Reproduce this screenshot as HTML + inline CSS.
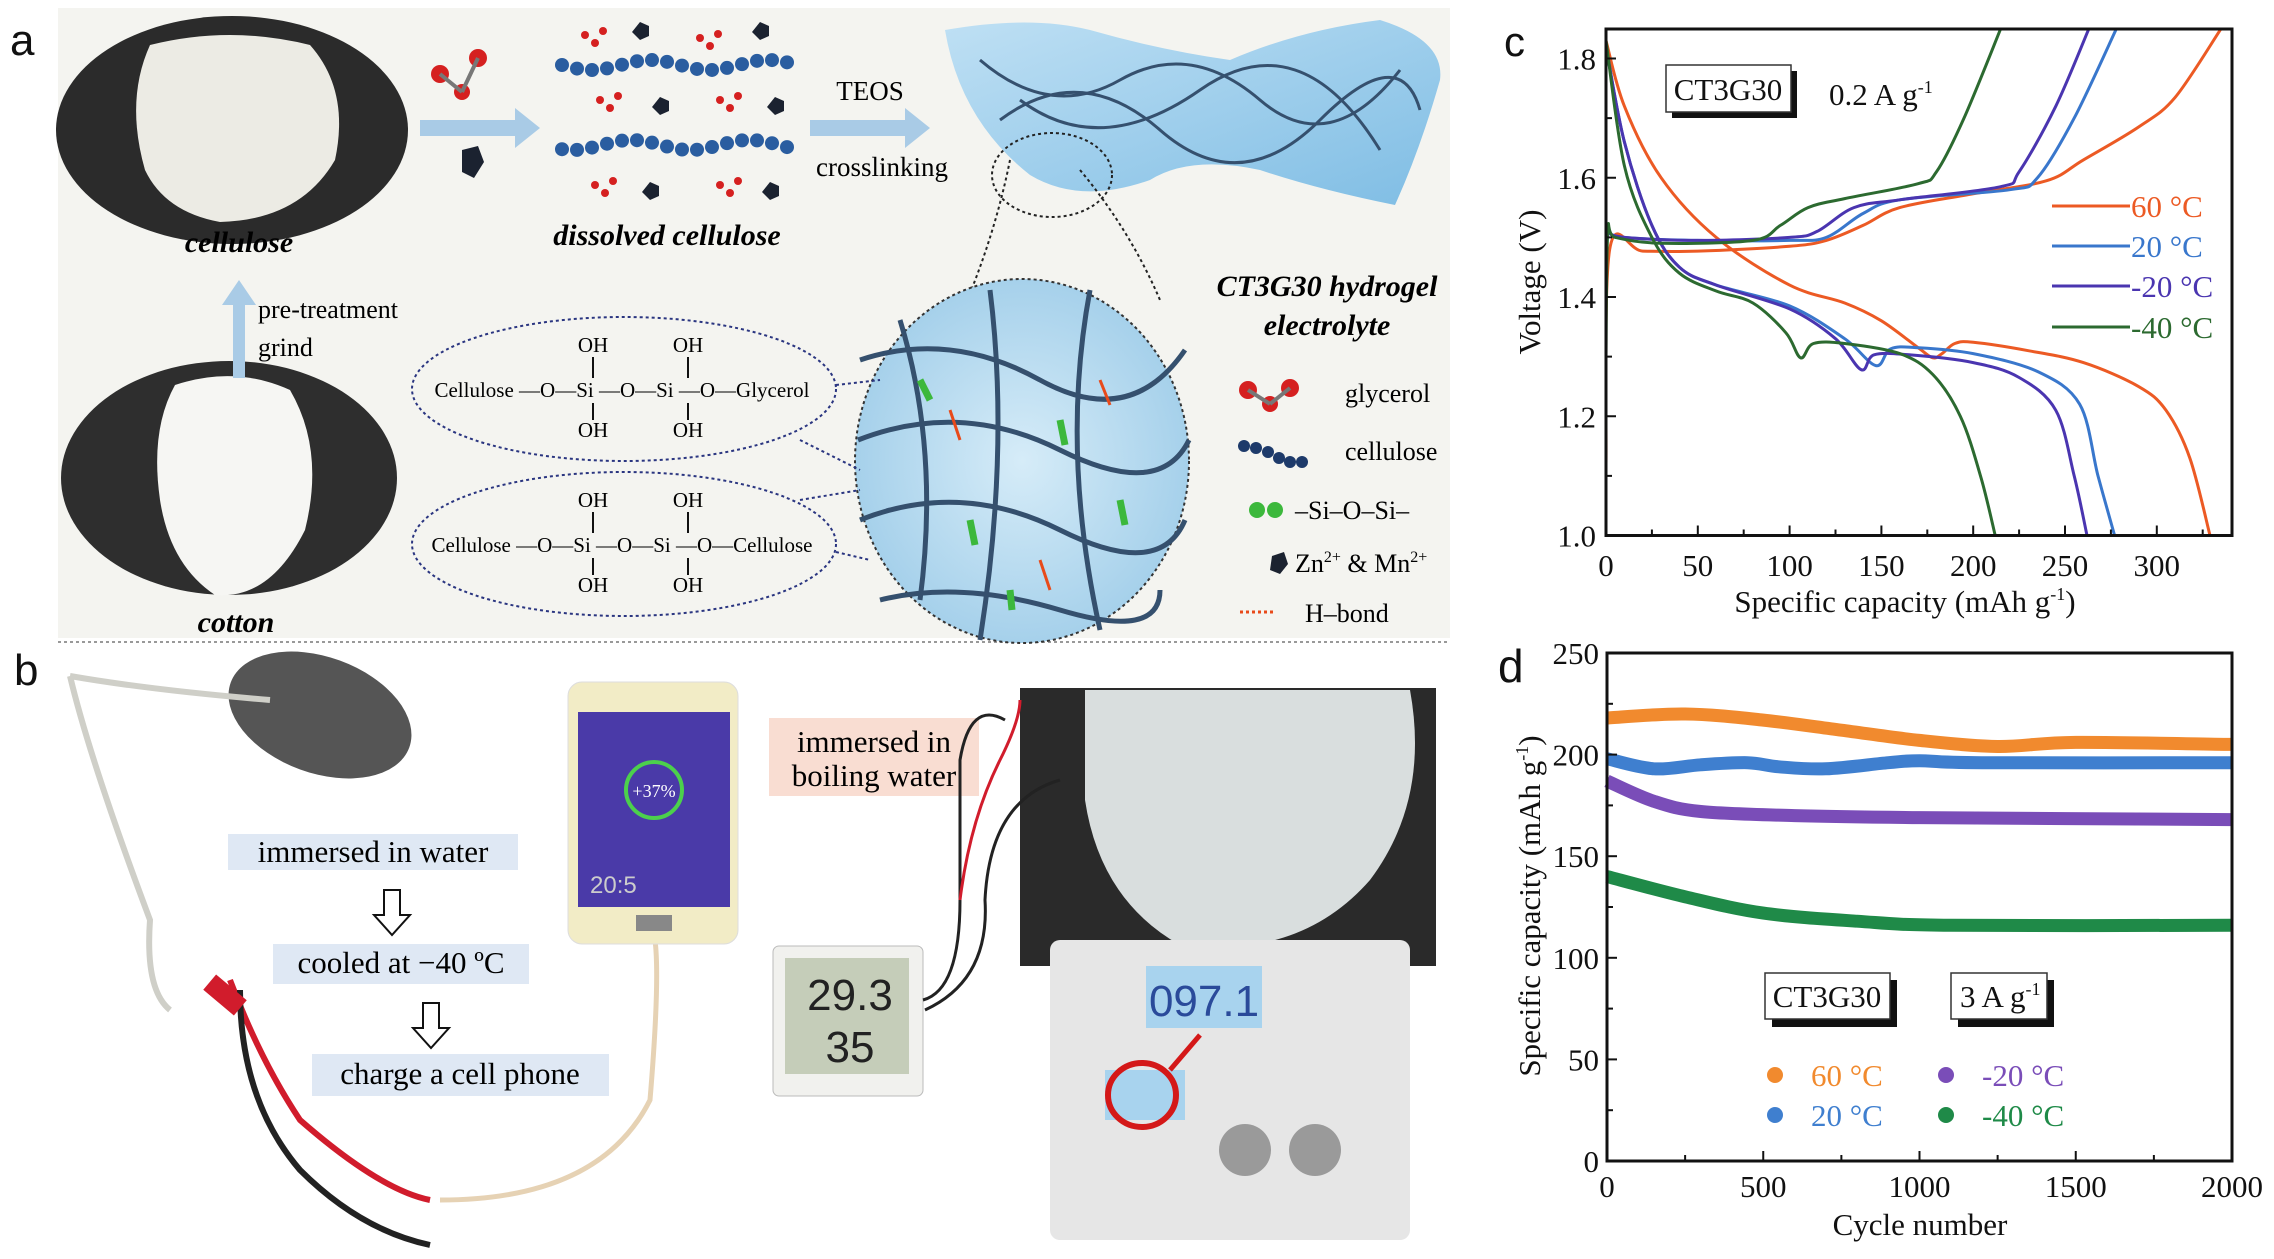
<!DOCTYPE html>
<html><head><meta charset="utf-8"><style>
html,body{margin:0;padding:0;background:#fff}
svg{display:block}
text{font-family:"Liberation Serif",serif}
.ax{font-size:31px;fill:#111}
</style></head><body>
<svg id="s" width="2274" height="1259" viewBox="0 0 2274 1259" xmlns="http://www.w3.org/2000/svg">
<defs>
<radialGradient id="bl" cx="50%" cy="50%" r="60%"><stop offset="0" stop-color="#d6ecf8"/><stop offset="1" stop-color="#9ccbe8"/></radialGradient>
<linearGradient id="hg" x1="0" y1="0" x2="1" y2="1"><stop offset="0" stop-color="#bfe0f4"/><stop offset="1" stop-color="#7fbde4"/></linearGradient>
</defs>
<rect x="58" y="8" width="1392" height="630" fill="#f4f4f0"/>
<line x1="58" y1="642" x2="1450" y2="642" stroke="#999" stroke-width="2" stroke-dasharray="3,3"/>
<text x="10" y="55" font-size="44" fill="#111" style="font-family:'Liberation Sans',sans-serif">a</text>
<text x="14" y="685" font-size="44" fill="#111" style="font-family:'Liberation Sans',sans-serif">b</text>
<text x="1504" y="56" font-size="42" fill="#111" style="font-family:'Liberation Sans',sans-serif">c</text>
<text x="1498" y="682" font-size="46" fill="#111" style="font-family:'Liberation Sans',sans-serif">d</text>

<ellipse cx="232" cy="130" rx="176" ry="114" fill="#2b2b2b"/>
<path d="M150,45 Q230,25 310,45 Q350,90 335,160 Q300,220 220,222 Q165,212 145,170 Q125,100 150,45Z" fill="#ecebe4"/>
<text x="239" y="252" text-anchor="middle" font-size="30" font-weight="bold" font-style="italic">cellulose</text>
<ellipse cx="229" cy="478" rx="168" ry="117" fill="#2e2e2e"/>
<path d="M175,385 Q235,365 290,390 Q325,450 305,530 Q270,600 215,595 Q170,565 160,500 Q150,430 175,385Z" fill="#f6f6f3"/>
<text x="236" y="632" text-anchor="middle" font-size="30" font-weight="bold" font-style="italic">cotton</text>
<path d="M233,378 L233,305 L222,305 L239,280 L256,305 L245,305 L245,378Z" fill="#a9cbe6"/>
<text x="258" y="318" font-size="26">pre-treatment</text>
<text x="258" y="356" font-size="26">grind</text>
<path d="M420,120 L515,120 L515,108 L540,128 L515,148 L515,136 L420,136Z" fill="#a9cbe6"/>
<path d="M810,120 L905,120 L905,108 L930,128 L905,148 L905,136 L810,136Z" fill="#a9cbe6"/>
<circle cx="440" cy="74" r="9" fill="#d52020"/><circle cx="478" cy="58" r="9" fill="#d52020"/><circle cx="462" cy="92" r="8" fill="#d52020"/>
<line x1="440" y1="74" x2="462" y2="92" stroke="#777" stroke-width="4"/><line x1="478" y1="58" x2="462" y2="92" stroke="#777" stroke-width="4"/>
<polygon points="462,150 478,146 484,162 474,178 462,172" fill="#1b2230"/>
<g id="chains"></g>
<text x="667" y="245" text-anchor="middle" font-size="30" font-weight="bold" font-style="italic">dissolved cellulose</text>
<text x="870" y="100" text-anchor="middle" font-size="27">TEOS</text>
<text x="882" y="176" text-anchor="middle" font-size="27">crosslinking</text>
<path d="M945,30 Q1030,15 1090,30 Q1160,50 1230,60 Q1300,30 1380,20 Q1445,40 1440,80 Q1420,150 1395,205 Q1320,190 1260,170 Q1190,155 1150,180 Q1080,205 1030,175 Q960,120 945,30Z" fill="url(#hg)"/>
<path d="M980,60 Q1050,120 1120,80 T1260,100 T1400,70" stroke="#35506e" stroke-width="3" fill="none"/>
<path d="M1000,120 Q1080,60 1160,130 T1320,120 T1420,110" stroke="#35506e" stroke-width="3" fill="none"/>
<path d="M1020,100 Q1100,160 1200,90 T1380,150" stroke="#35506e" stroke-width="3" fill="none"/>
<text x="1327" y="296" text-anchor="middle" font-size="30" font-weight="bold" font-style="italic">CT3G30 hydrogel</text>
<text x="1327" y="335" text-anchor="middle" font-size="30" font-weight="bold" font-style="italic">electrolyte</text>
<path d="M1010,160 Q990,260 940,360 M1080,170 Q1130,230 1160,300" stroke="#222" stroke-width="2" stroke-dasharray="3,3" fill="none"/>
<ellipse cx="1052" cy="175" rx="60" ry="42" stroke="#222" stroke-width="2" stroke-dasharray="3,3" fill="none"/>
<ellipse cx="1022" cy="461" rx="167" ry="182" fill="url(#bl)" stroke="#333" stroke-width="2" stroke-dasharray="3,3"/>
<g stroke="#35506e" stroke-width="5" fill="none">
<path d="M860,360 Q950,330 1040,380 T1185,350"/><path d="M858,440 Q960,400 1060,450 T1189,440"/>
<path d="M860,520 Q960,480 1060,530 T1185,520"/><path d="M880,600 Q960,580 1060,610 T1160,590"/>
<path d="M900,320 Q940,450 920,600"/><path d="M990,290 Q1010,450 980,640"/><path d="M1090,290 Q1060,450 1100,630"/>
</g>
<g stroke="#3cb83c" stroke-width="7"><line x1="920" y1="380" x2="930" y2="400"/><line x1="1060" y1="420" x2="1065" y2="445"/><line x1="970" y1="520" x2="975" y2="545"/><line x1="1120" y1="500" x2="1125" y2="525"/><line x1="1010" y1="590" x2="1012" y2="610"/></g>
<g stroke="#e84a1a" stroke-width="3"><line x1="950" y1="410" x2="960" y2="440"/><line x1="1100" y1="380" x2="1110" y2="405"/><line x1="1040" y1="560" x2="1050" y2="590"/></g>
<ellipse cx="624" cy="389" rx="212" ry="72" fill="none" stroke="#2a3580" stroke-width="2" stroke-dasharray="3,3"/>
<ellipse cx="624" cy="544" rx="212" ry="72" fill="none" stroke="#2a3580" stroke-width="2" stroke-dasharray="3,3"/>
<path d="M836,385 L880,380 M836,552 L870,560 M800,440 L860,470 M800,500 L860,490" stroke="#2a3580" stroke-width="2" stroke-dasharray="3,3"/>
<g font-size="21" text-anchor="middle">
<text x="593" y="352">OH</text><text x="688" y="352">OH</text><text x="593" y="437">OH</text><text x="688" y="437">OH</text>
<text x="622" y="397">Cellulose —O—Si —O—Si —O—Glycerol</text>
<text x="593" y="507">OH</text><text x="688" y="507">OH</text><text x="593" y="592">OH</text><text x="688" y="592">OH</text>
<text x="622" y="552">Cellulose —O—Si —O—Si —O—Cellulose</text>
</g>
<g stroke="#111" stroke-width="2"><line x1="593" y1="357" x2="593" y2="378"/><line x1="688" y1="357" x2="688" y2="378"/><line x1="593" y1="403" x2="593" y2="420"/><line x1="688" y1="403" x2="688" y2="420"/>
<line x1="593" y1="512" x2="593" y2="533"/><line x1="688" y1="512" x2="688" y2="533"/><line x1="593" y1="558" x2="593" y2="575"/><line x1="688" y1="558" x2="688" y2="575"/></g>
<circle cx="1248" cy="390" r="9" fill="#d52020"/><circle cx="1290" cy="388" r="9" fill="#d52020"/><circle cx="1270" cy="404" r="8" fill="#d52020"/>
<line x1="1248" y1="390" x2="1270" y2="404" stroke="#777" stroke-width="4"/><line x1="1290" y1="388" x2="1270" y2="404" stroke="#777" stroke-width="4"/>
<text x="1345" y="402" font-size="26">glycerol</text>
<g fill="#1d3a6a"><circle cx="1244" cy="446" r="6"/><circle cx="1256" cy="448" r="6"/><circle cx="1268" cy="452" r="6"/><circle cx="1279" cy="458" r="6"/><circle cx="1290" cy="462" r="6"/><circle cx="1302" cy="462" r="6"/></g>
<text x="1345" y="460" font-size="26">cellulose</text>
<circle cx="1257" cy="510" r="8" fill="#3cb83c"/><circle cx="1275" cy="510" r="8" fill="#3cb83c"/>
<text x="1295" y="519" font-size="26">–Si–O–Si–</text>
<polygon points="1272,556 1284,552 1288,564 1280,574 1270,570" fill="#1b2230"/>
<text x="1295" y="572" font-size="26">Zn<tspan font-size="16" dy="-10">2+</tspan><tspan dy="10"> &amp; Mn</tspan><tspan font-size="16" dy="-10">2+</tspan></text>
<line x1="1240" y1="612" x2="1275" y2="612" stroke="#e84a1a" stroke-width="3" stroke-dasharray="3,3"/>
<text x="1305" y="622" font-size="26">H–bond</text>

<ellipse cx="320" cy="715" rx="95" ry="58" fill="#555" transform="rotate(20 320 715)"/>
<path d="M70,676 Q150,690 270,700 M70,676 Q90,760 150,920 Q145,990 170,1010" stroke="#cfcfc8" stroke-width="6" fill="none"/>
<path d="M230,980 Q260,1060 300,1120 Q380,1190 430,1200" stroke="#d11c2c" stroke-width="6" fill="none"/>
<path d="M240,990 Q240,1100 300,1170 Q360,1230 430,1245" stroke="#222" stroke-width="6" fill="none"/>
<path d="M440,1200 Q600,1200 650,1100 Q660,980 655,940" stroke="#e6d2b4" stroke-width="5" fill="none"/>
<rect x="205" y="985" width="40" height="20" fill="#d11c2c" transform="rotate(40 225 995)"/>
<rect x="228" y="834" width="290" height="36" fill="#dfe8f4"/>
<text x="373" y="862" text-anchor="middle" font-size="31">immersed in water</text>
<path d="M384,890 L384,915 L374,915 L392,935 L410,915 L400,915 L400,890Z" fill="#fff" stroke="#111" stroke-width="2"/>
<rect x="273" y="944" width="256" height="40" fill="#dfe8f4"/>
<text x="401" y="973" text-anchor="middle" font-size="31">cooled at −40 ºC</text>
<path d="M423,1003 L423,1028 L413,1028 L431,1048 L449,1028 L439,1028 L439,1003Z" fill="#fff" stroke="#111" stroke-width="2"/>
<rect x="312" y="1054" width="297" height="42" fill="#dfe8f4"/>
<text x="460" y="1084" text-anchor="middle" font-size="31">charge a cell phone</text>
<rect x="568" y="682" width="170" height="262" rx="14" fill="#f2ecc6" stroke="#ddd"/>
<rect x="578" y="712" width="152" height="195" fill="#4a3aa8"/>
<circle cx="654" cy="790" r="28" fill="none" stroke="#4cd04c" stroke-width="4"/>
<text x="654" y="797" text-anchor="middle" font-size="18" fill="#fff">+37%</text>
<text x="590" y="893" font-size="24" fill="#ccc" style="font-family:'Liberation Sans',sans-serif">20:5</text>
<rect x="636" y="915" width="36" height="16" fill="#888"/>
<rect x="769" y="718" width="210" height="78" fill="#f9ddd2"/>
<text x="874" y="752" text-anchor="middle" font-size="31">immersed in</text>
<text x="874" y="786" text-anchor="middle" font-size="31">boiling water</text>
<rect x="1020" y="688" width="416" height="278" fill="#2a2a2a"/>
<path d="M1085,690 L1410,690 Q1430,800 1370,880 Q1300,960 1180,945 Q1100,900 1085,800Z" fill="#d9dede"/>
<rect x="1050" y="940" width="360" height="300" rx="10" fill="#e6e6e6"/>
<rect x="1146" y="966" width="116" height="62" fill="#a8d3ee"/>
<text x="1204" y="1016" text-anchor="middle" font-size="44" fill="#2a4a9a" style="font-family:'Liberation Sans',sans-serif">097.1</text>
<rect x="1105" y="1070" width="80" height="50" fill="#a8d3ee"/>
<ellipse cx="1142" cy="1095" rx="34" ry="32" fill="none" stroke="#d41818" stroke-width="6"/>
<line x1="1170" y1="1070" x2="1200" y2="1035" stroke="#d41818" stroke-width="5"/>
<circle cx="1245" cy="1150" r="26" fill="#9a9a9a"/><circle cx="1315" cy="1150" r="26" fill="#9a9a9a"/>
<rect x="773" y="946" width="150" height="150" rx="6" fill="#f1f1ee" stroke="#bbb"/>
<rect x="785" y="958" width="124" height="116" fill="#c5cdb9"/>
<text x="850" y="1010" text-anchor="middle" font-size="44" fill="#222" style="font-family:'Liberation Sans',sans-serif">29.3</text>
<text x="850" y="1062" text-anchor="middle" font-size="44" fill="#222" style="font-family:'Liberation Sans',sans-serif">35</text>
<path d="M923,1000 Q960,990 960,900 L960,760 Q970,700 1005,720 M925,1010 Q990,980 985,900 Q990,800 1060,780" stroke="#222" stroke-width="3" fill="none"/>
<path d="M960,900 Q970,820 1000,760 Q1020,720 1020,700" stroke="#d11c2c" stroke-width="3" fill="none"/>

<g id="cc"></g>
<g id="dd"></g>
</svg>
<script>
var NS="http://www.w3.org/2000/svg";
function el(p,t,a,txt){var e=document.createElementNS(NS,t);for(var k in a)e.setAttribute(k,a[k]);if(txt!=null)e.textContent=txt;p.appendChild(e);return e;}
function cr(pts){var d="M"+pts[0][0].toFixed(1)+","+pts[0][1].toFixed(1);for(var i=0;i<pts.length-1;i++){var p0=pts[i-1]||pts[i],p1=pts[i],p2=pts[i+1],p3=pts[i+2]||p2;
var c1=[p1[0]+(p2[0]-p0[0])/6,p1[1]+(p2[1]-p0[1])/6],c2=[p2[0]-(p3[0]-p1[0])/6,p2[1]-(p3[1]-p1[1])/6];
d+="C"+c1[0].toFixed(1)+","+c1[1].toFixed(1)+" "+c2[0].toFixed(1)+","+c2[1].toFixed(1)+" "+p2[0].toFixed(1)+","+p2[1].toFixed(1);}return d;}
var ch=document.getElementById("chains");
[65,145].forEach(function(y,j){for(var i=0;i<16;i++){var x=562+i*15;el(ch,"circle",{cx:x,cy:y+Math.sin(i*0.8+j)*5,r:7,fill:"#2a5da0"});}});
[[585,35],[640,30],[700,38],[760,30],[600,100],[660,105],[720,100],[775,105],[595,185],[650,190],[720,185],[770,190]].forEach(function(p,i){
 if(i%2){el(ch,"polygon",{points:(p[0])+","+(p[1]-8)+" "+(p[0]+9)+","+(p[1]-4)+" "+(p[0]+9)+","+(p[1]+6)+" "+p[0]+","+(p[1]+10)+" "+(p[0]-8)+","+(p[1]+2),fill:"#1b2230"});}
 else{el(ch,"circle",{cx:p[0],cy:p[1],r:4,fill:"#d52020"});el(ch,"circle",{cx:p[0]+10,cy:p[1]+8,r:4,fill:"#d52020"});el(ch,"circle",{cx:p[0]+18,cy:p[1]-4,r:4,fill:"#d52020"});}
});
var C=document.getElementById("cc");
var L=1606,R=2232,T=29,B=535.5;
function X(v){return L+v*1.836}function Y(v){return B-(v-1.0)*596.25}
var cl={a:"#ec5a24",b:"#3977cc",c:"#4a35b0",d:"#2c6a30"};
var cv=[
["a",[[0,1.12],[2,1.48],[20,1.477],[50,1.477],[100,1.485],[120,1.495],[140,1.52],[160,1.55],[200,1.573],[240,1.595],[260,1.63],[290,1.685],[310,1.735],[335,1.85]]],
["a",[[0,1.83],[10,1.72],[30,1.6],[60,1.5],[100,1.42],[130,1.39],[150,1.36],[170,1.315],[178,1.298],[183,1.305],[190,1.322],[200,1.324],[230,1.31],[260,1.29],[290,1.25],[305,1.21],[318,1.13],[329,1.0]]],
["b",[[0,1.51],[10,1.5],[50,1.495],[100,1.495],[120,1.5],[140,1.54],[160,1.563],[220,1.58],[235,1.6],[255,1.7],[278,1.85]]],
["b",[[0,1.82],[10,1.66],[25,1.52],[40,1.45],[60,1.42],[100,1.385],[130,1.33],[147,1.285],[155,1.313],[170,1.315],[200,1.305],[235,1.275],[258,1.22],[268,1.1],[277,1.0]]],
["c",[[0,1.51],[10,1.5],[50,1.495],[100,1.5],[115,1.51],[135,1.55],[160,1.563],[215,1.585],[225,1.61],[245,1.72],[263,1.85]]],
["c",[[0,1.82],[10,1.66],[25,1.52],[40,1.45],[60,1.42],[100,1.38],[125,1.33],[139,1.278],[146,1.303],[165,1.303],[200,1.29],[225,1.265],[245,1.21],[255,1.1],[262,1.0]]],
["d",[[0,1.3],[1,1.51],[5,1.5],[30,1.49],[80,1.495],[95,1.52],[110,1.55],[130,1.565],[170,1.59],[180,1.61],[195,1.7],[215,1.85]]],
["d",[[0,1.83],[10,1.62],[25,1.5],[40,1.44],[60,1.41],[80,1.39],[98,1.34],[106,1.298],[113,1.322],[130,1.322],[160,1.305],[178,1.27],[193,1.2],[204,1.1],[212,1.0]]]];
var cp=el(C,"clipPath",{id:"cpc"});el(cp,"rect",{x:L,y:T,width:R-L,height:B-T});
var g=el(C,"g",{"clip-path":"url(#cpc)"});
cv.forEach(function(s){el(g,"path",{d:cr(s[1].map(function(p){return[X(p[0]),Y(p[1])]})),stroke:cl[s[0]],"stroke-width":3,fill:"none"});});
el(C,"rect",{x:L,y:T,width:R-L,height:B-T,fill:"none",stroke:"#111","stroke-width":3});
for(var v=1.0;v<=1.801;v+=0.1){var y=Y(v),maj=Math.round(v*10)%2==0;el(C,"line",{x1:L,y1:y,x2:L+(maj?10:6),y2:y,stroke:"#111","stroke-width":2});if(maj)el(C,"text",{x:L-10,y:y+11,"text-anchor":"end","class":"ax"},v.toFixed(1));}
for(var c=0;c<=325;c+=25){var x=X(c),maj=c%50==0;el(C,"line",{x1:x,y1:B,x2:x,y2:B-(maj?10:6),stroke:"#111","stroke-width":2});if(maj)el(C,"text",{x:x,y:576,"text-anchor":"middle","class":"ax"},c);}
var tx=el(C,"text",{x:1905,y:612,"text-anchor":"middle","class":"ax"},"Specific capacity (mAh g");el(tx,"tspan",{"font-size":"18",dy:"-12"},"-1");el(tx,"tspan",{dy:"12"},")");
el(C,"text",{x:0,y:0,"text-anchor":"middle","class":"ax",transform:"translate(1540,282) rotate(-90)"},"Voltage (V)");
el(C,"rect",{x:1672,y:71,width:125,height:47,fill:"#111"});
el(C,"rect",{x:1666,y:65,width:125,height:47,fill:"#fff",stroke:"#333","stroke-width":1.5});
el(C,"text",{x:1728,y:100,"text-anchor":"middle","class":"ax"},"CT3G30");
var t=el(C,"text",{x:1829,y:105,"class":"ax"},"0.2 A g");el(t,"tspan",{"font-size":"18",dy:"-12"},"-1");
[["a","60 °C",206],["b","20 °C",246],["c","-20 °C",286],["d","-40 °C",327]].forEach(function(q){el(C,"line",{x1:2052,y1:q[2],x2:2130,y2:q[2],stroke:cl[q[0]],"stroke-width":3});el(C,"text",{x:2131,y:q[2]+11,"class":"ax",style:"fill:"+cl[q[0]]},q[1]);});
var D=document.getElementById("dd");
var L2=1607,R2=2232,T2=653,B2=1161;
function X2(n){return L2+n*0.3125}function Y2(c){return B2-c*2.032}
var dl={a:"#f18a2e",b:"#3f7fcf",c:"#7a4db8",d:"#1f8a48"};
var dv=[["a",[[0,218],[250,220],[500,217],[750,212],[1000,207],[1250,204],[1500,206],[2000,205]]],
["b",[[0,198],[150,193],[300,195],[450,196],[550,194],[700,193],[900,196],[1000,197],[1200,196],[2000,196]]],
["c",[[0,187],[150,177],[300,172],[600,170],[1000,169],[2000,168]]],
["d",[[0,140],[250,130],[500,122],[800,118],[1100,116],[2000,116]]]];
dv.forEach(function(s){el(D,"path",{d:cr(s[1].map(function(p){return[X2(p[0]),Y2(p[1])]})),stroke:dl[s[0]],"stroke-width":13,fill:"none"});});
el(D,"rect",{x:L2,y:T2,width:R2-L2,height:B2-T2,fill:"none",stroke:"#111","stroke-width":3});
for(var c=0;c<=250;c+=25){var y=Y2(c),maj=c%50==0;el(D,"line",{x1:L2,y1:y,x2:L2+(maj?10:6),y2:y,stroke:"#111","stroke-width":2});if(maj)el(D,"text",{x:L2-8,y:y+11,"text-anchor":"end","class":"ax"},c);}
for(var n=0;n<=2000;n+=250){var x=X2(n),maj=n%500==0;el(D,"line",{x1:x,y1:B2,x2:x,y2:B2-(maj?10:6),stroke:"#111","stroke-width":2});if(maj)el(D,"text",{x:x,y:1197,"text-anchor":"middle","class":"ax"},n);}
el(D,"text",{x:1920,y:1235,"text-anchor":"middle","class":"ax"},"Cycle number");
var t2=el(D,"text",{x:0,y:0,"text-anchor":"middle","class":"ax",transform:"translate(1540,906) rotate(-90)"},"Specific capacity (mAh g");el(t2,"tspan",{"font-size":"18",dy:"-12"},"-1");el(t2,"tspan",{dy:"12"},")");
el(D,"rect",{x:1772,y:980,width:125,height:47,fill:"#111"});el(D,"rect",{x:1765,y:973,width:125,height:46,fill:"#fff",stroke:"#333","stroke-width":1.5});
el(D,"text",{x:1827,y:1007,"text-anchor":"middle","class":"ax"},"CT3G30");
el(D,"rect",{x:1958,y:980,width:96,height:47,fill:"#111"});el(D,"rect",{x:1951,y:973,width:96,height:46,fill:"#fff",stroke:"#333","stroke-width":1.5});
var t3=el(D,"text",{x:1960,y:1007,"class":"ax"},"3 A g");el(t3,"tspan",{"font-size":"18",dy:"-12"},"-1");
[["a","60 °C",1775,1075],["b","20 °C",1775,1115],["c","-20 °C",1946,1075],["d","-40 °C",1946,1115]].forEach(function(q){el(D,"circle",{cx:q[2],cy:q[3],r:8,fill:dl[q[0]]});el(D,"text",{x:q[2]+36,y:q[3]+11,"class":"ax",style:"fill:"+dl[q[0]]},q[1]);});
</script>
</body></html>
